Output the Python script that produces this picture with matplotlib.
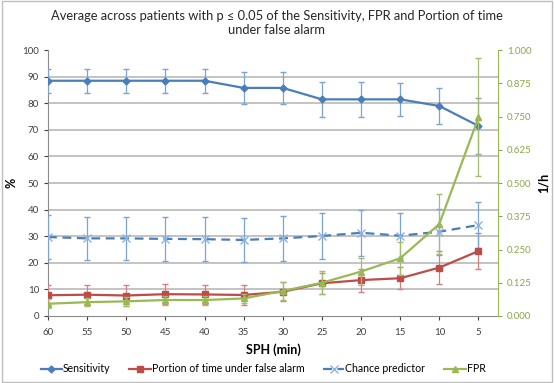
import matplotlib.pyplot as plt
from matplotlib.lines import Line2D
import numpy as np

plt.rcParams['font.family'] = ['Lato', 'DejaVu Sans']

sph = [60, 55, 50, 45, 40, 35, 30, 25, 20, 15, 10, 5]

# percentages (left axis)
sens = [88.5, 88.5, 88.5, 88.5, 88.5, 85.8, 85.8, 81.5, 81.5, 81.5, 79.0, 71.5]
sens_err = [4.5, 4.5, 4.5, 4.5, 4.5, 6.0, 6.0, 6.5, 6.5, 6.3, 6.6, 10.5]
portion = [7.8, 8.0, 7.7, 8.2, 8.1, 7.9, 9.1, 12.3, 13.5, 14.2, 18.2, 24.4]
portion_err = [3.8, 3.7, 3.8, 3.7, 3.7, 3.6, 3.5, 4.0, 4.3, 4.2, 6.3, 6.9]
chance = [29.7, 29.2, 29.2, 29.0, 28.9, 28.6, 29.2, 30.1, 31.3, 30.2, 31.7, 34.2]
chance_err = [8.3, 8.2, 8.1, 8.2, 8.3, 8.2, 8.4, 8.8, 8.7, 8.4, 8.6, 8.7]

# FPR in 1/h (right axis)
fpr = [0.046, 0.052, 0.055, 0.060, 0.060, 0.066, 0.094, 0.125, 0.167, 0.217, 0.346, 0.747]
fpr_err = [0.016, 0.016, 0.016, 0.017, 0.017, 0.018, 0.034, 0.043, 0.050, 0.062, 0.112, 0.222]

blue = '#4A7EBB'
red = '#BE4B48'
green = '#98B954'
lblue = '#8DB3E2'

x = np.arange(len(sph))

fig = plt.figure(figsize=(5.54, 3.83), dpi=100)
ax = fig.add_axes([0.0866, 0.175, 0.8124, 0.694])
ax2 = ax.twinx()

for yv in range(10, 100, 10):
    ax.axhline(yv, color='#BEBEBE', lw=1.3, zorder=0)

ax.errorbar(x, sens, yerr=sens_err, color=blue, marker='D', ms=3.5, lw=1.6,
            ecolor='#7BA3D3', elinewidth=0.9, capsize=2.5, zorder=4)
ax.errorbar(x, portion, yerr=portion_err, color=red, marker='s', ms=5, lw=1.6,
            ecolor='#D87F7C', elinewidth=0.9, capsize=2.5, zorder=4)
ax.errorbar(x, chance, yerr=chance_err, color=blue, ls=(0, (4, 2.5)), lw=1.6,
            marker='x', ms=6, mec=lblue, mew=1.0,
            ecolor='#7BA3D3', elinewidth=0.9, capsize=2.5, zorder=4)
ax2.errorbar(x, fpr, yerr=fpr_err, color=green, marker='^', ms=5, lw=1.6,
             ecolor='#A3BD6F', elinewidth=0.9, capsize=2.5, zorder=4)

ax.set_xlim(0, 11.5)
ax.set_ylim(0, 100)
ax2.set_ylim(0, 1)
ax.set_yticks(range(0, 101, 10))
ax2.set_yticks(np.arange(0, 1.001, 0.125))
ax2.set_yticklabels(['%.3f' % v for v in np.arange(0, 1.001, 0.125)])
ax.set_xticks(x)
ax.set_xticklabels([str(s) for s in sph])

ax.tick_params(axis='both', labelsize=7, colors='#404040', length=3, width=0.8)
ax.tick_params(axis='x', pad=6)
ax2.tick_params(axis='y', labelsize=7, colors='#8AA64A', length=3, width=0.8)

ax.spines['top'].set_visible(False)
ax2.spines['top'].set_visible(False)
ax.spines['left'].set_color('#8C8C8C')
ax.spines['bottom'].set_color('#8C8C8C')
ax2.spines['left'].set_visible(False)
ax2.spines['bottom'].set_visible(False)
ax2.spines['right'].set_color(green)
ax.spines['right'].set_visible(False)

ax.set_xlabel('SPH (min)', fontsize=9, fontweight='bold', labelpad=4)
ax.set_ylabel('%', fontsize=9, fontweight='bold')
ax.yaxis.set_label_coords(-0.067, 0.5)
ax2.set_ylabel('1/h', fontsize=9, fontweight='bold')
ax2.yaxis.set_label_coords(1.087, 0.5)

fig.suptitle('Average across patients with p \u2264 0.05 of the Sensitivity, FPR and Portion of time\nunder false alarm',
             fontsize=9.3, y=0.975, color='#262626')

handles = [
    Line2D([], [], color=blue, marker='D', ms=3.5, lw=1.6),
    Line2D([], [], color=red, marker='s', ms=5, lw=1.6),
    Line2D([], [], color=blue, ls=(0, (4, 2.5)), lw=1.6, marker='x', ms=6, mec=lblue),
    Line2D([], [], color=green, marker='^', ms=5, lw=1.6),
]
labels = ['Sensitivity', 'Portion of time under false alarm', 'Chance predictor', 'FPR']
fig.legend(handles, labels, loc='center', bbox_to_anchor=(0.475, 0.037), ncol=4,
           frameon=False, fontsize=7.6, handlelength=2.0, columnspacing=1.8,
           handletextpad=0.1)

fig.patches.append(plt.Rectangle((0.003, 0.003), 0.994, 0.994, transform=fig.transFigure,
                                 fill=False, ec='#BEBEBE', lw=1))

fig.savefig('out.png', dpi=100)
